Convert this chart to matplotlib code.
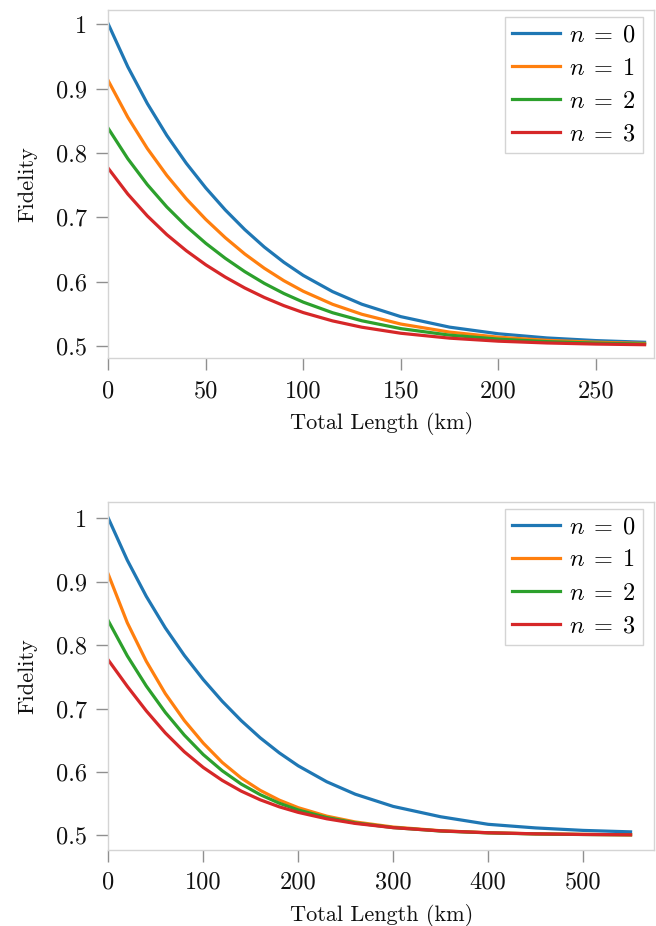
import matplotlib
matplotlib.use("Agg")
import matplotlib.pyplot as plt
from matplotlib.ticker import FuncFormatter

# ---------------- data ----------------
labels = [r"$n\;=\;0$", r"$n\;=\;1$", r"$n\;=\;2$", r"$n\;=\;3$"]
colors = ["#1f77b4", "#ff7f0e", "#2ca02c", "#d62728"]

x_top = [0, 10, 20, 30, 40, 50, 60, 70, 80, 90, 100, 115, 130, 150, 175, 200, 225, 250, 275]
top_n0 = [1.000, 0.9338, 0.8768, 0.8272, 0.7839, 0.7456, 0.7114, 0.6809, 0.6538, 0.6302,
          0.6097, 0.5846, 0.5650, 0.5457, 0.5294, 0.5191, 0.5126, 0.5085, 0.5059]
top_n1 = [0.912, 0.8554, 0.8069, 0.7651, 0.7287, 0.6967, 0.6683, 0.6430, 0.6209, 0.6016,
          0.5851, 0.5649, 0.5494, 0.5342, 0.5217, 0.5138, 0.5089, 0.5060, 0.5041]
top_n2 = [0.838, 0.7910, 0.7508, 0.7161, 0.6860, 0.6596, 0.6363, 0.6156, 0.5974, 0.5817,
          0.5682, 0.5518, 0.5393, 0.5271, 0.5170, 0.5108, 0.5069, 0.5046, 0.5031]
top_n3 = [0.776, 0.7361, 0.7022, 0.6731, 0.6481, 0.6262, 0.6071, 0.5902, 0.5755, 0.5628,
          0.5520, 0.5391, 0.5293, 0.5199, 0.5123, 0.5076, 0.5048, 0.5031, 0.5021]

x_bot = [0, 20, 40, 60, 80, 100, 120, 140, 160, 180, 200, 230, 260, 300, 350, 400, 450, 500, 550]
bot_n0 = [1.000, 0.9338, 0.8768, 0.8272, 0.7839, 0.7456, 0.7114, 0.6809, 0.6538, 0.6302,
          0.6097, 0.5846, 0.5650, 0.5457, 0.5294, 0.5175, 0.5118, 0.5079, 0.5056]
bot_n1 = [0.9115, 0.8352, 0.7745, 0.7236, 0.6812, 0.6455, 0.6150, 0.5904, 0.5710, 0.5557,
          0.5437, 0.5304, 0.5212, 0.5132, 0.5074, 0.5042, 0.5025, 0.5016, 0.5010]
bot_n2 = [0.8382, 0.7830, 0.7355, 0.6940, 0.6582, 0.6274, 0.6019, 0.5809, 0.5642, 0.5508,
          0.5401, 0.5282, 0.5198, 0.5123, 0.5069, 0.5040, 0.5023, 0.5014, 0.5009]
bot_n3 = [0.7764, 0.7350, 0.6963, 0.6616, 0.6319, 0.6071, 0.5867, 0.5698, 0.5561, 0.5451,
          0.5363, 0.5262, 0.5189, 0.5122, 0.5071, 0.5042, 0.5025, 0.5015, 0.5010]

y_ticks = [0.5, 0.6, 0.7, 0.8, 0.9, 1.0]
x_ticks_top = [0, 50, 100, 150, 200, 250]
x_ticks_bot = [0, 100, 200, 300, 400, 500]

# ---------------- style ----------------
plt.rcParams["font.family"] = ["cmr10", "DejaVu Serif"]
plt.rcParams["mathtext.fontset"] = "cm"
plt.rcParams["axes.formatter.use_mathtext"] = True
FS_TICK = 17.5
FS_LABEL = 16
FS_LEG = 17.5

fig = plt.figure(figsize=(6.56, 9.26), dpi=100)
ax_top = fig.add_axes([108.3 / 656, 1 - 358.3 / 926, 546 / 656, 348.3 / 926])
ax_bot = fig.add_axes([108.3 / 656, 1 - 850 / 926, 546 / 656, 348.3 / 926])

fmt = FuncFormatter(lambda v, p: "%g" % round(v, 3))


def style(ax, x, series, xt, xlim, ylim):
    for ys, c, lab in zip(series, colors, labels):
        ax.plot(x, ys, color=c, lw=2.3, label=lab)
    ax.set_xlim(*xlim)
    ax.set_ylim(*ylim)
    ax.set_xticks(xt)
    ax.set_yticks(y_ticks)
    ax.xaxis.set_major_formatter(fmt)
    ax.yaxis.set_major_formatter(fmt)
    for s in ax.spines.values():
        s.set_color("#d4d4d4")
        s.set_linewidth(1.0)
    ax.tick_params(axis="both", which="major", direction="out", length=8.6, width=1.0,
                   color="#8f8f8f", labelsize=FS_TICK, pad=7, labelcolor="#111111")
    ax.set_xlabel("Total Length (km)", fontsize=FS_LABEL, labelpad=7, color="#111111")
    ax.set_ylabel("Fidelity", fontsize=FS_LABEL, labelpad=13, color="#111111")
    leg = ax.legend(loc="upper right", bbox_to_anchor=(0.9799, 0.979), borderaxespad=0,
                    fontsize=FS_LEG, frameon=True, fancybox=False, framealpha=1,
                    edgecolor="#d4d4d4", handlelength=2.0, handletextpad=0.35,
                    labelspacing=0.45, borderpad=0.3)
    leg.get_frame().set_linewidth(1.0)


style(ax_top, x_top, [top_n0, top_n1, top_n2, top_n3], x_ticks_top, (0, 280), (0.481, 1.022))
style(ax_bot, x_bot, [bot_n0, bot_n1, bot_n2, bot_n3], x_ticks_bot, (0, 575), (0.477, 1.026))

fig.savefig("out.png", dpi=100)
